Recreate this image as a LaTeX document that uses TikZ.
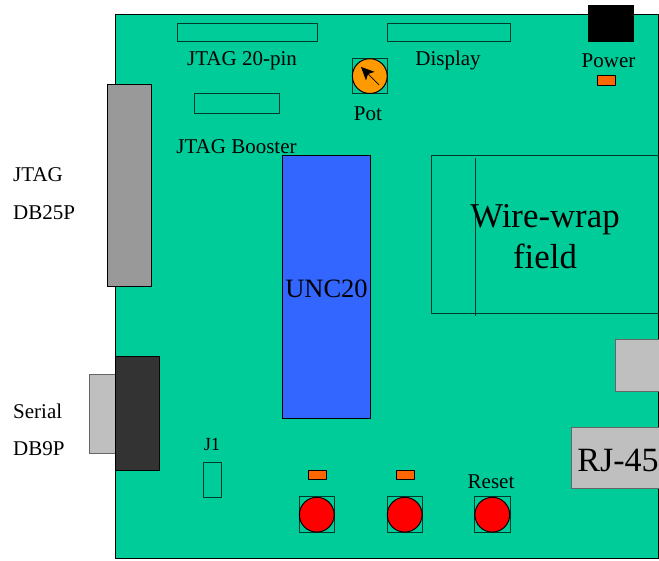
\documentclass[tikz,border=0pt]{standalone}
\usepackage{fontspec}
\usetikzlibrary{arrows.meta}
\setmainfont{Liberation Serif}
\newcommand{\fs}[1]{\fontsize{#1}{#1}\selectfont}
\definecolor{board}{HTML}{00CC99}
\definecolor{ledorange}{HTML}{FF6600}
\definecolor{potorange}{HTML}{FF9900}
\definecolor{chipblue}{HTML}{3366FF}
\definecolor{holeline}{HTML}{00382A}
\tikzset{
  x=1pt,y=-1pt,
  part/.style={draw=black,line width=1pt},
  hole/.style={draw=holeline,line width=1pt},
  lbl/.style={inner sep=0pt,text=black,font=\fs{21}},
  led/.style={part,fill=ledorange},
  btn/.style={part,fill=red},
  lightgray/.style={part,fill=black!25,draw=black!60},
}
\begin{document}
\begin{tikzpicture}
\useasboundingbox (0,0) rectangle (659,561);
\begin{scope}[yshift=-0.4pt]
% board
\path[part,fill=board] (115,14) rectangle (658.5,558);
% headers
\path[hole] (177,23) rectangle (317,41);
\path[hole] (387,23) rectangle (510,41);
\path[hole] (194,93) rectangle (279,113);
\path[part,fill=black] (588,5) rectangle (633,41);
\path[led] (597,75.5) rectangle (615,85);
% pot
\path[hole] (352,58) rectangle (387.5,93);
\path[part,fill=potorange] (369.8,75.7) circle (17.4);
\coordinate (potA) at (379,84.5);
\coordinate (potB) at (361,66.5);
\draw[-{Stealth[length=13pt,width=12pt,inset=3pt]},line width=0.8pt] (potA) -- (potB);
% connectors
\path[part,fill=black!40] (107,84) rectangle (151,286);
\path[lightgray] (89,374) rectangle (115,453);
\path[part,fill=black!80] (115,356) rectangle (159,470);
% chip
\path[part,fill=chipblue] (282,155) rectangle (370,418);
% wire-wrap
\path[hole] (431,155) rectangle (659,313);
\draw[hole] (475,158) -- (475,316);
% right
\path[lightgray] (615,339) rectangle (659,391);
\path[lightgray] (571,427) rectangle (659,488);
% J1
\path[hole] (203,462) rectangle (221,497);
% LEDs
\path[led] (308,470) rectangle (326,479.5);
\path[led] (396,470) rectangle (414,479.5);
% buttons
\path[hole] (299,496.5) rectangle (334.5,532);
\path[hole] (387,496.5) rectangle (422.5,532);
\path[hole] (474.5,496.5) rectangle (510,532);
\path[btn] (316.8,514.3) circle (17.4);
\path[btn] (404.7,514.3) circle (17.4);
\path[btn] (492.3,514.3) circle (17.4);
% labels
\node[lbl] (tj20) at (242,60.5) {JTAG 20-pin};
\node[lbl] (tdisp) at (448,60.5) {Display};
\node[lbl] (tpow) at (608.5,60.5) {Power};
\node[lbl] (tpot) at (368,113.5) {Pot};
\node[lbl] (tboost) at (236.5,146) {JTAG Booster};
\node[lbl,anchor=west] (tjtag) at (13,174.5) {JTAG};
\node[lbl,anchor=west] (tdb25) at (13,212.5) {DB25P};
\node[lbl,anchor=west] (tser) at (13,411) {Serial};
\node[lbl,anchor=west] (tdb9) at (13,448) {DB9P};
\node[lbl,font=\fs{18.5}] (tj1) at (212,444.5) {J1};
\node[lbl] (treset) at (491,481.5) {Reset};
\node[lbl,font=\fs{26.5}] (tunc) at (326.5,288) {UNC20};
\node[lbl,font=\fs{34.8},align=center] (tww) at (545,236.5) {Wire-wrap\\[6pt]field};
\node[lbl,font=\fs{34}] (trj) at (618,460) {RJ-45};
\end{scope}
\end{tikzpicture}
\end{document}
